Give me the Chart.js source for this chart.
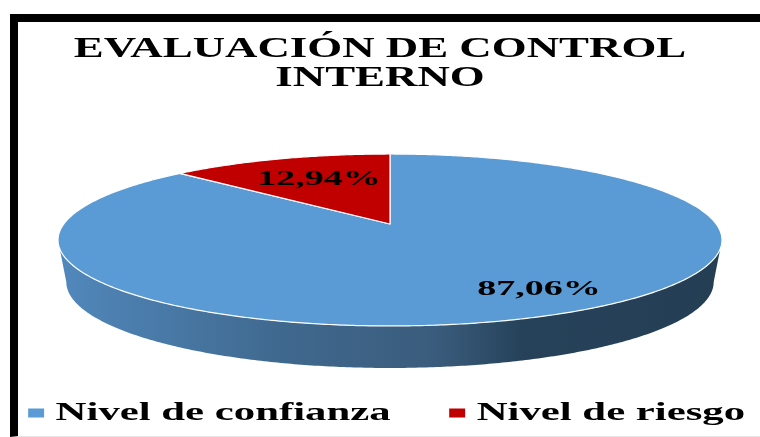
<!DOCTYPE html>
<html><head><meta charset="utf-8">
<script src="https://cdn.jsdelivr.net/npm/chart.js@4"></script>
<style>
html,body{margin:0;padding:0;background:#fff;width:760px;height:437px;overflow:hidden}
#frame{position:absolute;left:10px;top:14px;right:0;border-left:8px solid #000;border-top:8px solid #000;border-bottom:1px solid #e6e6e6;box-sizing:content-box;height:414px}
#wrap{position:absolute;left:0;top:0;width:760px;height:437px}
</style></head><body>
<div id="frame"></div>
<div id="wrap"><canvas id="c" width="760" height="437"></canvas></div>
<script>
const titleLines = ["EVALUACIÓN DE CONTROL", "INTERNO"];
const categories = ["Nivel de confianza", "Nivel de riesgo"];
const shares = [87.06, 12.94];
const shareLabels = ["87,06%", "12,94%"];
const sliceColors = ["#5b9bd5", "#c00000"];

const SERIF = '"Liberation Serif","Times New Roman",serif';
const TITLE_STRETCH = 1.547, LEGEND_STRETCH = 1.645, LABEL_STRETCH = 1.73;

// perspective mapping of the pie's unit disc on the page
const P = {cx:390, cy:224, a:-0.186, sx:326.2, sy:83, depth:42, lowX:0.975};
function proj(u, v){const w = 1 + P.a*v; return [P.cx + P.sx*u/w, P.cy + P.sy*v/w];}

function tracePerspectiveArc(ctx, s, e){
  const n = Math.max(8, Math.ceil(Math.abs(e-s)/0.01));
  ctx.beginPath();
  let p = proj(0,0); ctx.moveTo(p[0],p[1]);
  for(let i=0;i<=n;i++){const t=s+(e-s)*i/n; p=proj(Math.cos(t),Math.sin(t)); ctx.lineTo(p[0],p[1]);}
  ctx.closePath();
}

const perspectivePie = {
  id:'perspectivePie',
  beforeDatasetsDraw(chart){
    const ctx = chart.ctx;
    const meta = chart.getDatasetMeta(0);
    const vMin = 0.186, t0 = Math.asin(vMin), t1 = Math.PI - t0, n = 300;
    const g = ctx.createLinearGradient(58,0,722,0);
    g.addColorStop(0,'#5188bc'); g.addColorStop(0.33,'#40698f');
    g.addColorStop(0.57,'#3a5c7c'); g.addColorStop(0.7,'#26425a'); g.addColorStop(1,'#243e54');
    ctx.save();
    ctx.beginPath();
    for(let i=0;i<=n;i++){const t=t0+(t1-t0)*i/n; const p=proj(Math.cos(t),Math.sin(t)); i?ctx.lineTo(p[0],p[1]):ctx.moveTo(p[0],p[1]);}
    for(let i=n;i>=0;i--){const t=t0+(t1-t0)*i/n; const p=proj(Math.cos(t),Math.sin(t));
      ctx.lineTo(P.cx+(p[0]-P.cx)*P.lowX, p[1]+P.depth);}
    ctx.closePath(); ctx.fillStyle=g; ctx.fill();
    ctx.restore();
    meta.data.forEach((arc,i)=>{
      arc.draw = function(c){
        const q = this.getProps(['startAngle','endAngle'], true);
        c.save();
        tracePerspectiveArc(c, q.startAngle, q.endAngle);
        c.fillStyle = sliceColors[i]; c.fill();
        c.strokeStyle = '#ffffff'; c.lineWidth = 1.2; c.lineJoin='round'; c.stroke();
        c.restore();
      };
    });
  },
  afterDatasetsDraw(chart){
    const ctx = chart.ctx;
    ctx.save();
    ctx.fillStyle = '#000';
    ctx.font = 'bold 22px '+SERIF;
    ctx.textAlign='center'; ctx.textBaseline='middle';
    const spots = [[539,289],[319,179]];
    shareLabels.forEach((s,i)=>{
      ctx.save();
      ctx.translate(spots[i][0],spots[i][1]); ctx.scale(LABEL_STRETCH,1);
      ctx.fillText(s,0,0);
      ctx.restore();
    });
    ctx.restore();
  }
};

const LEGEND = {font:26, box:1, pad:38.3, swatchW:9.7, swatchH:9, swatchGap:7, dy:5};

function stretchBlock(block, cx, sx, dy, after){
  const orig = block.draw.bind(block);
  block.draw = function(){
    const c = block.ctx;
    c.save(); c.translate(cx,dy); c.scale(sx,1); c.translate(-cx,0);
    orig();
    if(after) after(c);
    c.restore();
  };
}
const stretchText = {
  id:'stretchText',
  afterLayout(chart){
    if(chart.$stretched) return; chart.$stretched = true;
    stretchBlock(chart.titleBlock, 380, TITLE_STRETCH, 0);
    const lg = chart.legend;
    stretchBlock(lg, 366.3, LEGEND_STRETCH, LEGEND.dy, c=>{
      lg.legendHitBoxes.forEach((hb,i)=>{
        const textX = hb.left + LEGEND.box + LEGEND.font/2;
        c.fillStyle = sliceColors[i];
        c.fillRect(textX - LEGEND.swatchGap - LEGEND.swatchW, hb.top + hb.height/2 - LEGEND.swatchH/2, LEGEND.swatchW, LEGEND.swatchH);
      });
    });
  }
};

new Chart(document.getElementById('c'),{
  type:'pie',
  data:{labels:categories,datasets:[{data:shares,backgroundColor:sliceColors,borderWidth:0}]},
  options:{
    responsive:false,animation:false,
    rotation:0,
    layout:{padding:{left:0,right:0,top:0,bottom:6}},
    plugins:{
      tooltip:{enabled:false},
      title:{display:true,text:titleLines,color:'#000',align:'center',
        font:{family:SERIF,size:29,weight:'bold',lineHeight:1},
        padding:{top:35,bottom:10}},
      legend:{position:'bottom',align:'center',
        labels:{color:'#000',boxWidth:LEGEND.box,boxHeight:1,padding:LEGEND.pad,
          font:{family:SERIF,size:LEGEND.font,weight:'bold'},
          generateLabels(chart){
            return categories.map((t,i)=>({text:t,fillStyle:'rgba(0,0,0,0)',strokeStyle:'rgba(0,0,0,0)',lineWidth:0,hidden:false,index:i,fontColor:'#000'}));
          }}}
    }
  },
  plugins:[perspectivePie,stretchText]
});
</script>
</body></html>
